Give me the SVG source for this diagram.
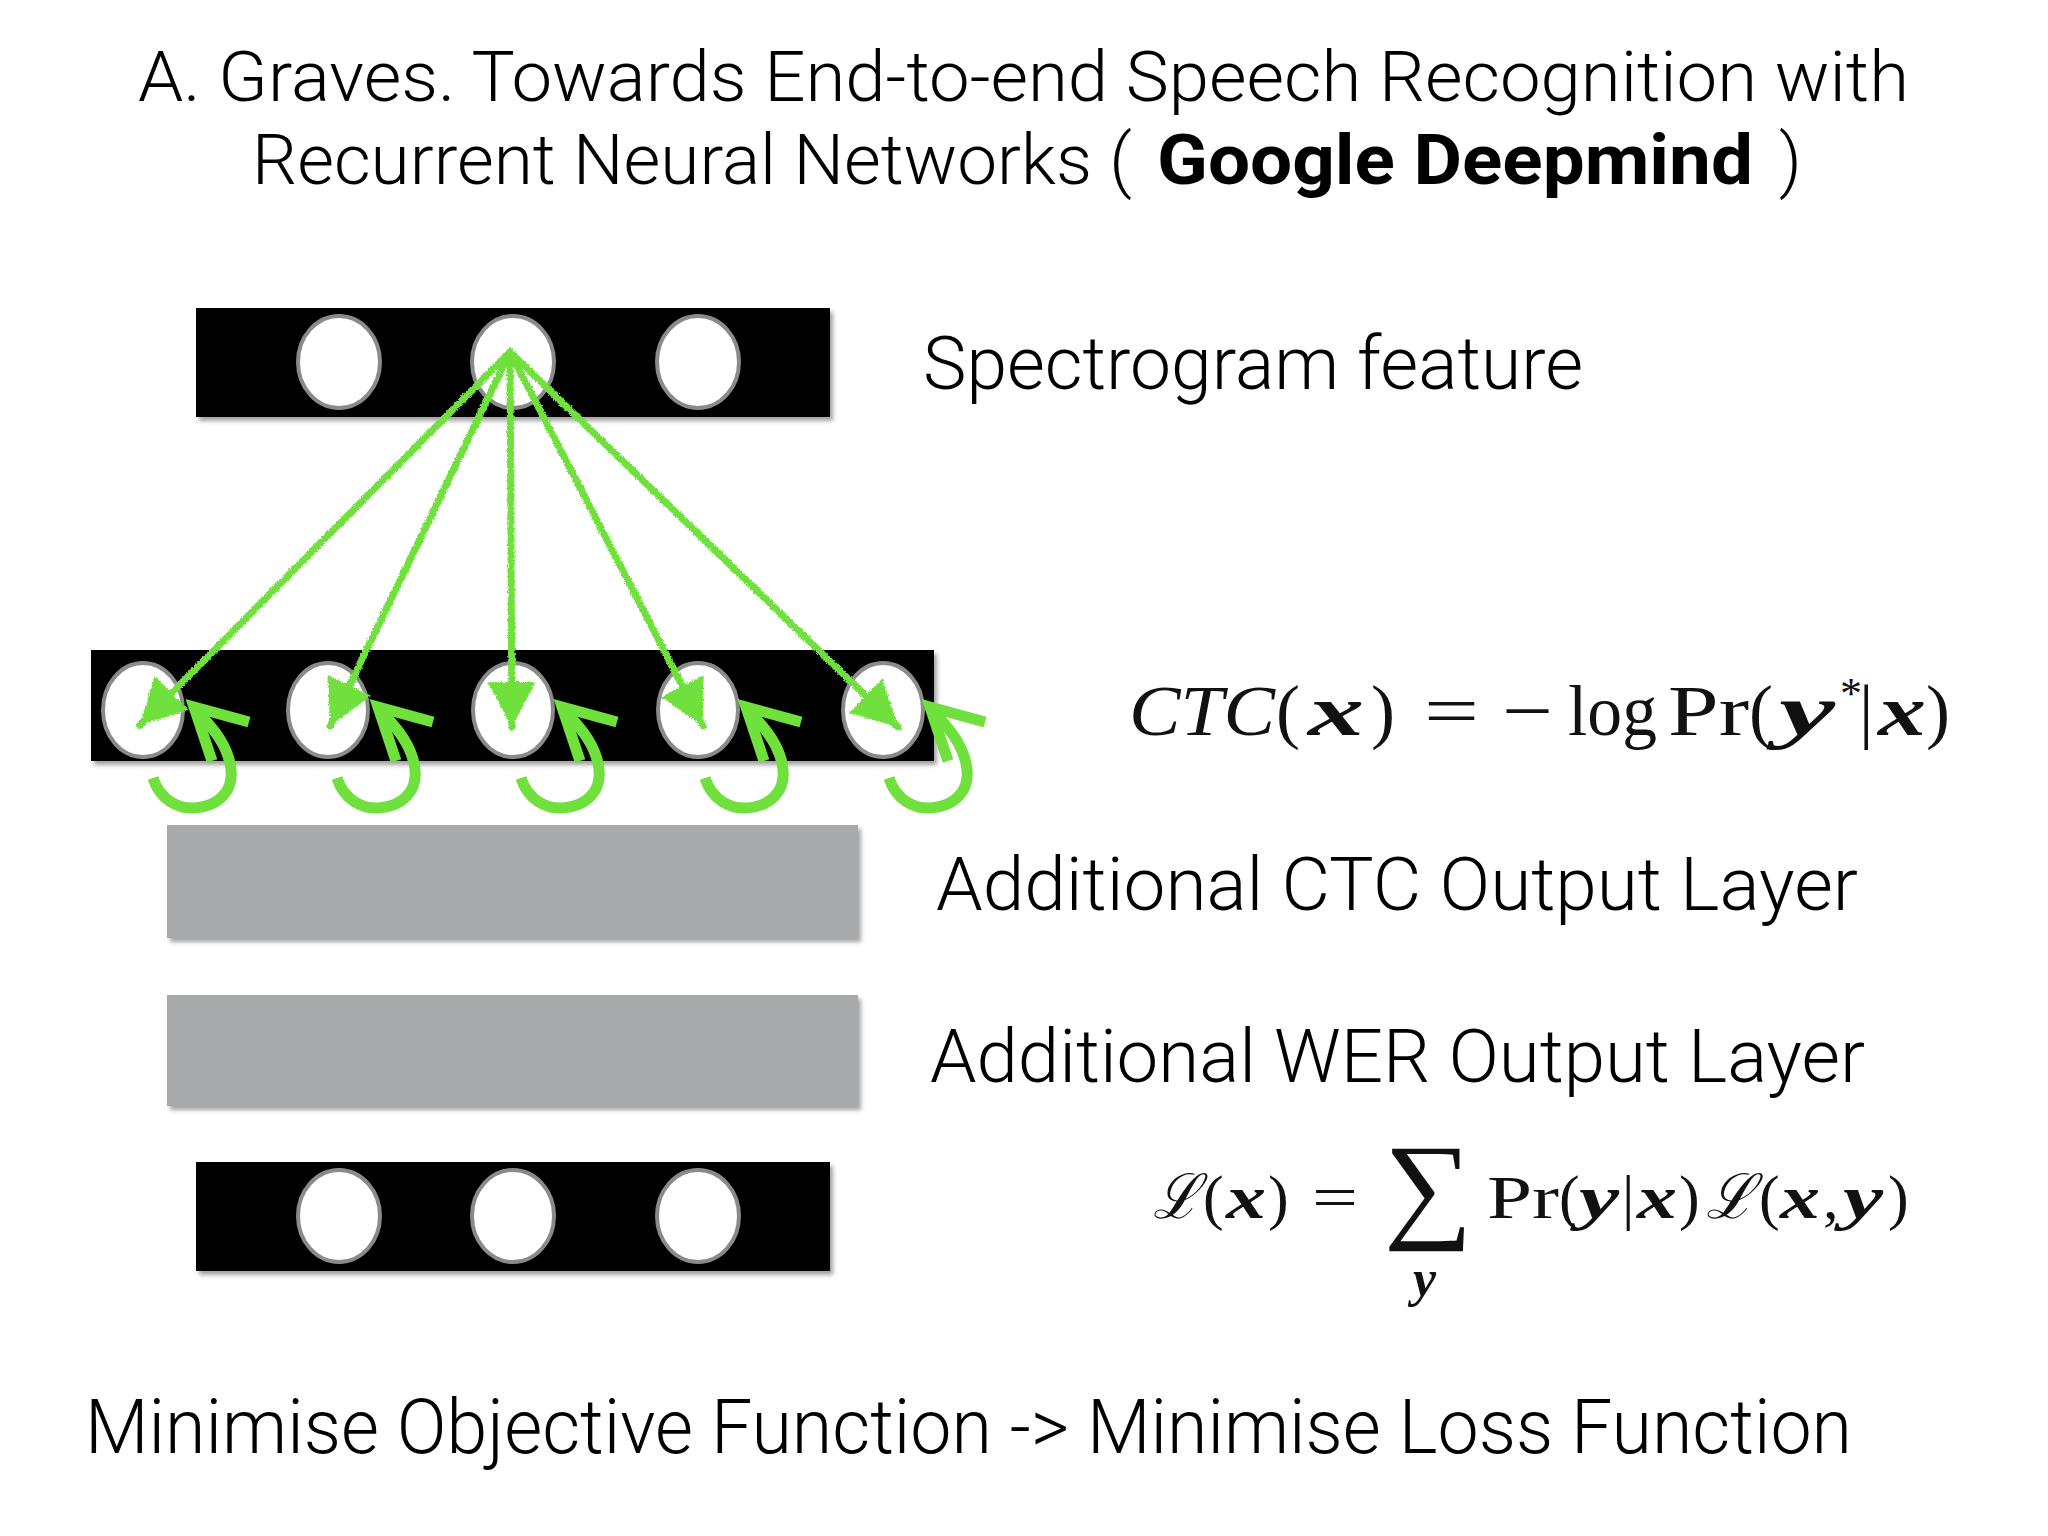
<svg xmlns="http://www.w3.org/2000/svg" xmlns:xlink="http://www.w3.org/1999/xlink" width="2048" height="1536" viewBox="0 0 2048 1536">
<style>
.lbl{font-family:Roboto,"Liberation Sans",sans-serif;font-weight:300;fill:#000;}
.bold{font-family:Roboto,"Liberation Sans",sans-serif;font-weight:700;fill:#000;}
.math{font-family:"Liberation Serif","DejaVu Serif",serif;fill:#111;}
.it{font-style:italic;}
.bi{font-style:italic;font-weight:bold;}
.bar{fill:#000;filter:url(#sh);}
.gbar{fill:#a7a9aa;filter:url(#sh);}
.node{fill:#fff;stroke:#8a8a8a;stroke-width:4;}
.chalk{stroke:#6fe03c;stroke-width:7;fill:none;stroke-linecap:round;}
.loop{stroke:#6fe03c;stroke-width:11;fill:none;}
</style>
<defs>
<filter id="sh" x="-5%" y="-10%" width="115%" height="130%">
<feDropShadow dx="3" dy="4" stdDeviation="2" flood-color="#666" flood-opacity="0.6"/>
</filter>
<filter id="rough" filterUnits="userSpaceOnUse" x="0" y="0" width="2048" height="1536">
<feTurbulence type="fractalNoise" baseFrequency="0.6" numOctaves="2" seed="3" result="n"/>
<feDisplacementMap in="SourceGraphic" in2="n" scale="4" xChannelSelector="R" yChannelSelector="G"/>
</filter>
<marker id="head" markerUnits="userSpaceOnUse" markerWidth="52" markerHeight="52" viewBox="0 0 52 52" refX="47" refY="26" orient="auto">
<path d="M2,2 L47,26 L2,50 Z" fill="#6fe03c"/>
</marker>
<g id="loopShape">
<path class="loop" d="M153,778 C160,800 178,809 195,808 C220,806 233,790 231,770 C229,748 214,728 197,712"/>
<path class="loop" d="M249,722 L194,707 L212,761" stroke-linejoin="miter"/>
</g>
</defs>
<rect width="2048" height="1536" fill="#fff"/>

<g id="title">
<text class="lbl" x="138" y="101" font-size="70" textLength="1771" lengthAdjust="spacingAndGlyphs">A. Graves. Towards End-to-end Speech Recognition with</text>
<text class="lbl" x="252" y="184" font-size="70" textLength="880" lengthAdjust="spacingAndGlyphs">Recurrent Neural Networks (</text>
<text class="bold" x="1157" y="184" font-size="70" textLength="596" lengthAdjust="spacingAndGlyphs">Google Deepmind</text>
<text class="lbl" x="1779" y="184" font-size="70">)</text>
</g>

<g id="spectrogram-layer">
<rect class="bar" x="196" y="308" width="634" height="109"/>
<ellipse class="node" cx="339" cy="362" rx="41" ry="46"/>
<ellipse class="node" cx="513" cy="362" rx="41" ry="46"/>
<ellipse class="node" cx="698" cy="362" rx="41" ry="46"/>
</g>

<g id="recurrent-layer">
<rect class="bar" x="91" y="650" width="843" height="111"/>
<ellipse class="node" cx="143" cy="710" rx="40" ry="47"/>
<ellipse class="node" cx="328" cy="710" rx="40" ry="47"/>
<ellipse class="node" cx="513" cy="710" rx="40" ry="47"/>
<ellipse class="node" cx="698" cy="710" rx="40" ry="47"/>
<ellipse class="node" cx="883" cy="710" rx="40" ry="47"/>
</g>

<g id="ctc-layer">
<rect class="gbar" x="167" y="825" width="691" height="113"/>
</g>

<g id="wer-layer">
<rect class="gbar" x="167" y="995" width="691" height="111"/>
</g>

<g id="output-layer">
<rect class="bar" x="196" y="1162" width="634" height="109"/>
<ellipse class="node" cx="339" cy="1216" rx="41" ry="46"/>
<ellipse class="node" cx="513" cy="1216" rx="41" ry="46"/>
<ellipse class="node" cx="698" cy="1216" rx="41" ry="46"/>
</g>

<g id="connectors">
<g filter="url(#rough)">
<line class="chalk" x1="510" y1="352" x2="140" y2="725" marker-end="url(#head)"/>
<line class="chalk" x1="510" y1="352" x2="330" y2="726" marker-end="url(#head)"/>
<line class="chalk" x1="510" y1="352" x2="512" y2="727" marker-end="url(#head)"/>
<line class="chalk" x1="510" y1="352" x2="703" y2="726" marker-end="url(#head)"/>
<line class="chalk" x1="510" y1="352" x2="898" y2="727" marker-end="url(#head)"/>
</g>
<use xlink:href="#loopShape" x="0" y="0"/>
<use xlink:href="#loopShape" x="184" y="0"/>
<use xlink:href="#loopShape" x="368" y="0"/>
<use xlink:href="#loopShape" x="552" y="0"/>
<use xlink:href="#loopShape" x="736" y="0"/>
</g>

<g id="labels">
<text class="lbl" x="923" y="389" font-size="74" textLength="660" lengthAdjust="spacingAndGlyphs">Spectrogram feature</text>
<text class="lbl" x="936" y="910" font-size="74" textLength="922" lengthAdjust="spacingAndGlyphs">Additional CTC Output Layer</text>
<text class="lbl" x="930" y="1082" font-size="74" textLength="935" lengthAdjust="spacingAndGlyphs">Additional WER Output Layer</text>
<text class="lbl" x="85" y="1453" font-size="76" textLength="1767" lengthAdjust="spacingAndGlyphs">Minimise Objective Function -&gt; Minimise Loss Function</text>
</g>

<g id="ctc-formula" class="math" font-size="72">
<text x="1129" y="735" class="it" textLength="146" lengthAdjust="spacingAndGlyphs">CTC</text>
<text x="1276" y="735">(</text>
<text x="1308" y="735" class="bi" textLength="56" lengthAdjust="spacingAndGlyphs">x</text>
<text x="1371" y="735">)</text>
<text x="1424" y="735" textLength="55" lengthAdjust="spacingAndGlyphs">=</text>
<text x="1502" y="735" textLength="51" lengthAdjust="spacingAndGlyphs">−</text>
<text x="1568" y="735" textLength="89" lengthAdjust="spacingAndGlyphs">log</text>
<text x="1668" y="735" textLength="81" lengthAdjust="spacingAndGlyphs">Pr</text>
<text x="1749" y="735">(</text>
<text x="1779" y="735" class="bi" textLength="56" lengthAdjust="spacingAndGlyphs">y</text>
<text x="1840" y="708" font-size="44">*</text>
<text x="1859" y="735">|</text>
<text x="1878" y="735" class="bi" textLength="48" lengthAdjust="spacingAndGlyphs">x</text>
<text x="1926" y="735">)</text>
</g>

<g id="loss-formula" class="math" font-size="62">
<text x="1153" y="1218" class="it" font-family="DejaVu Serif, serif" textLength="47" lengthAdjust="spacingAndGlyphs">ℒ</text>
<text x="1203" y="1218">(</text>
<text x="1226" y="1218" class="bi" textLength="40" lengthAdjust="spacingAndGlyphs">x</text>
<text x="1268" y="1218">)</text>
<text x="1312" y="1218" textLength="46" lengthAdjust="spacingAndGlyphs">=</text>
<text x="1384" y="1226" font-size="118" textLength="89" lengthAdjust="spacingAndGlyphs">∑</text>
<text x="1413" y="1296" class="bi" font-size="52">y</text>
<text x="1487" y="1218" textLength="72" lengthAdjust="spacingAndGlyphs">Pr</text>
<text x="1559" y="1218">(</text>
<text x="1579" y="1218" class="bi" textLength="40" lengthAdjust="spacingAndGlyphs">y</text>
<text x="1622" y="1218">|</text>
<text x="1637" y="1218" class="bi" textLength="40" lengthAdjust="spacingAndGlyphs">x</text>
<text x="1679" y="1218">)</text>
<text x="1706" y="1218" class="it" font-family="DejaVu Serif, serif" textLength="49" lengthAdjust="spacingAndGlyphs">ℒ</text>
<text x="1759" y="1218">(</text>
<text x="1780" y="1218" class="bi" textLength="40" lengthAdjust="spacingAndGlyphs">x</text>
<text x="1823" y="1218">,</text>
<text x="1843" y="1218" class="bi" textLength="40" lengthAdjust="spacingAndGlyphs">y</text>
<text x="1888" y="1218">)</text>
</g>
</svg>
